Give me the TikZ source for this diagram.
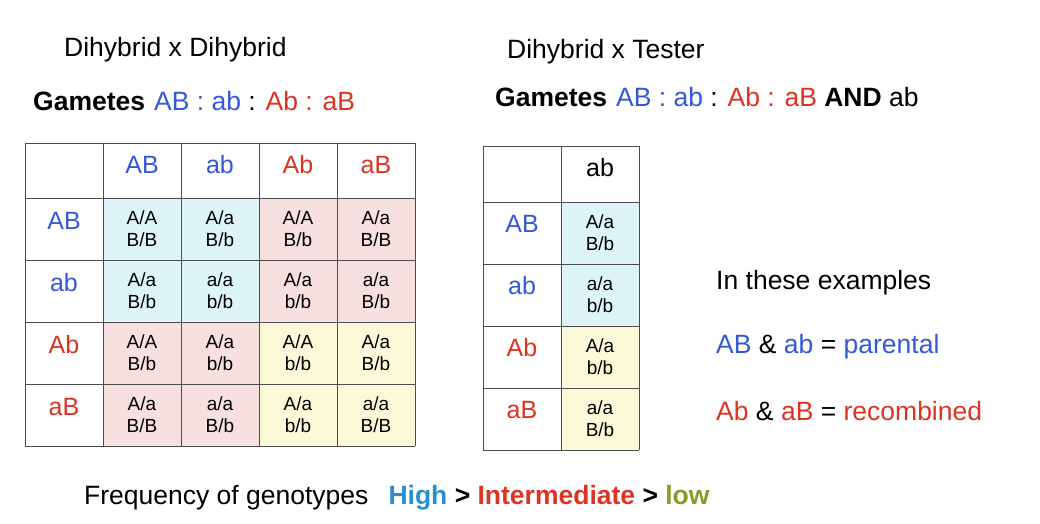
\documentclass[tikz,border=0pt]{standalone}
\usepackage{fontspec}
\setmainfont{Liberation Sans}
\definecolor{gb}{HTML}{3358D8}
\definecolor{gr}{HTML}{DD3322}
\definecolor{cc}{HTML}{DDF5F8}
\definecolor{cp}{HTML}{F8E0E0}
\definecolor{cy}{HTML}{FAFAD8}
\definecolor{hi}{HTML}{2A8FD0}
\definecolor{lo}{HTML}{8A9A2A}
\tikzset{
 big/.style={font=\fontsize{26.5}{29}\selectfont, inner sep=0pt},
 hdr/.style={font=\fontsize{25}{27}\selectfont, inner sep=0pt},
 cell/.style={font=\fontsize{19}{22}\selectfont, align=center, inner sep=0pt},
}
\begin{document}
\begin{tikzpicture}[x=1pt,y=-1pt]
\useasboundingbox (0,0) rectangle (1040,524);
\fill[white] (0,0) rectangle (1040,524);
\def\xs{{25,103,181,259,337,415}}
\def\ys{{143,198,260,322,384,446}}
\foreach \c/\r/\col in {1/1/cc,2/1/cc,1/2/cc,2/2/cc,3/1/cp,4/1/cp,3/2/cp,4/2/cp,1/3/cp,2/3/cp,1/4/cp,2/4/cp,3/3/cy,4/3/cy,3/4/cy,4/4/cy}{
 \pgfmathsetmacro\xa{\xs[\c]}\pgfmathsetmacro\xb{\xs[\c+1]}
 \pgfmathsetmacro\ya{\ys[\r]}\pgfmathsetmacro\yb{\ys[\r+1]}
 \fill[\col] (\xa,\ya) rectangle (\xb,\yb);}
\foreach \x in {25,103,181,259,337,415} \draw[gray!60!black] (\x,143) -- (\x,446);
\foreach \y in {143,198,260,322,384,446} \draw[gray!60!black] (25,\y) -- (415,\y);
\node[hdr,text=gb] (h1) at (142,165) {AB};
\node[hdr,text=gb] (h2) at (220,165) {ab};
\node[hdr,text=gr] (h3) at (298,165) {Ab};
\node[hdr,text=gr] (h4) at (376,165) {aB};
\node[hdr,text=gb] (r1) at (64,221) {AB};
\node[hdr,text=gb] (r2) at (64,283) {ab};
\node[hdr,text=gr] (r3) at (64,345) {Ab};
\node[hdr,text=gr] (r4) at (64,407) {aB};
\node[cell] (c11) at (142,229) {A/A\\B/B};
\node[cell] (c12) at (220,229) {A/a\\B/b};
\node[cell] (c13) at (298,229) {A/A\\B/b};
\node[cell] (c14) at (376,229) {A/a\\B/B};
\node[cell] (c21) at (142,291) {A/a\\B/b};
\node[cell] (c22) at (220,291) {a/a\\b/b};
\node[cell] (c23) at (298,291) {A/a\\b/b};
\node[cell] (c24) at (376,291) {a/a\\B/b};
\node[cell] (c31) at (142,353) {A/A\\B/b};
\node[cell] (c32) at (220,353) {A/a\\b/b};
\node[cell] (c33) at (298,353) {A/A\\b/b};
\node[cell] (c34) at (376,353) {A/a\\B/b};
\node[cell] (c41) at (142,415) {A/a\\B/B};
\node[cell] (c42) at (220,415) {a/a\\B/b};
\node[cell] (c43) at (298,415) {A/a\\b/b};
\node[cell] (c44) at (376,415) {a/a\\B/B};
\fill[cc] (561,202) rectangle (639,326);
\fill[cy] (561,326) rectangle (639,450);
\foreach \x in {483,561,639} \draw[gray!60!black] (\x,146) -- (\x,450);
\foreach \y in {146,202,264,326,388,450} \draw[gray!60!black] (483,\y) -- (639,\y);
\node[hdr] (th) at (600,168) {ab};
\node[hdr,text=gb] (s1) at (522,224) {AB};
\node[hdr,text=gb] (s2) at (522,286) {ab};
\node[hdr,text=gr] (s3) at (522,348) {Ab};
\node[hdr,text=gr] (s4) at (522,410) {aB};
\node[cell] (t1) at (600,233) {A/a\\B/b};
\node[cell] (t2) at (600,295) {a/a\\b/b};
\node[cell] (t3) at (600,357) {A/a\\b/b};
\node[cell] (t4) at (600,419) {a/a\\B/b};
\node[big,anchor=west] (ta) at (64,50) {Dihybrid x Dihybrid};
\node[big,anchor=west] (tb) at (507,52) {Dihybrid x Tester};
\node[big,anchor=west] (ga) at (33,101) {\textbf{Gametes}\hspace{9pt}\textcolor{gb}{AB : ab} : \textcolor{gr}{Ab : aB}};
\node[big,anchor=west] (gb2) at (495,97) {\textbf{Gametes}\hspace{9pt}\textcolor{gb}{AB : ab} : \textcolor{gr}{Ab : aB} \textbf{AND} ab};
\node[big,anchor=west] (e1) at (716,283) {In these examples};
\node[big,anchor=west] (e2) at (716,347) {\textcolor{gb}{AB} \& \textcolor{gb}{ab} = \textcolor{gb}{parental}};
\node[big,anchor=west] (e3) at (716,411) {\textcolor{gr}{Ab} \& \textcolor{gr}{aB} = \textcolor{gr}{recombined}};
\node[big,anchor=west] (fq) at (84,498) {Frequency of genotypes\hspace{20pt}\textbf{\textcolor{hi}{High} > \textcolor{gr}{Intermediate} > \textcolor{lo}{low}}};
\end{tikzpicture}
\end{document}
